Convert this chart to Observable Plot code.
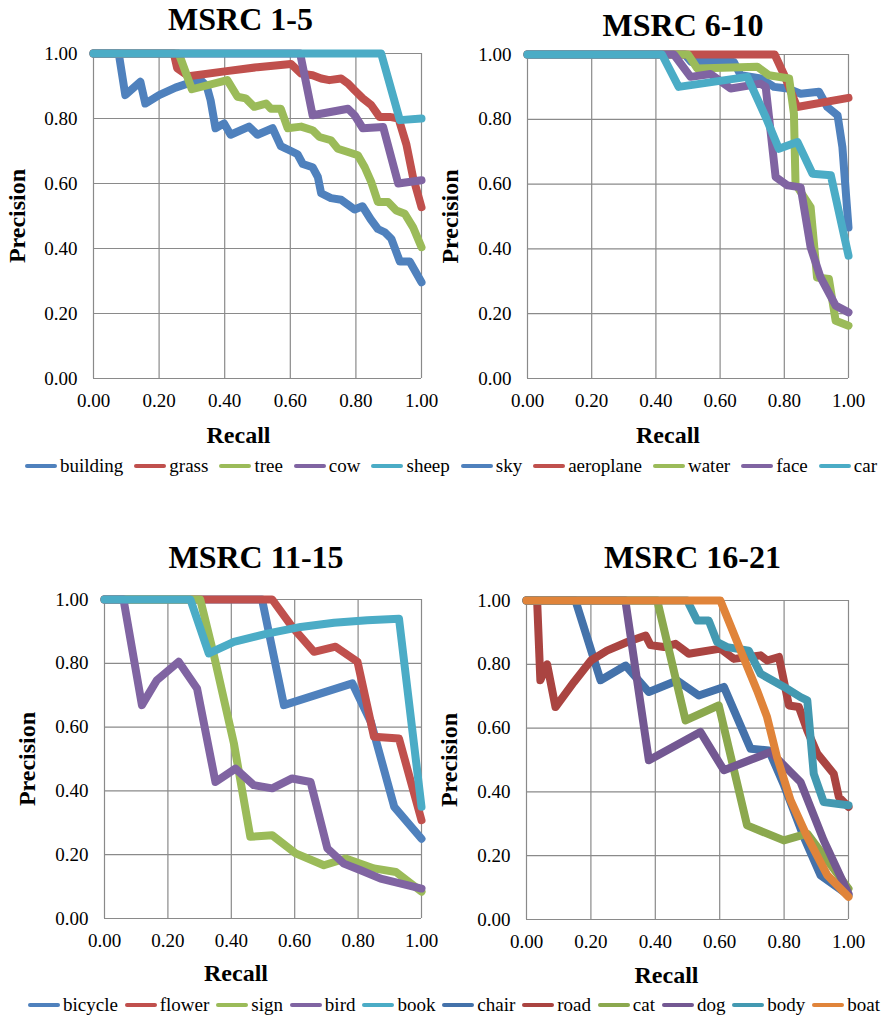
<!DOCTYPE html>
<html>
<head>
<meta charset="utf-8">
<script src="https://cdn.jsdelivr.net/npm/d3@7"></script>
<script src="https://cdn.jsdelivr.net/npm/@observablehq/plot@0.6"></script>
<style>
  html, body { margin: 0; padding: 0; background: #fff; }
  #root { position: relative; width: 887px; height: 1019px; overflow: hidden; font-family: "Liberation Serif", "Times New Roman", Times, serif; }
  .panel { position: absolute; }
  .legend { position: absolute; display: flex; justify-content: space-between; align-items: center; font-family: "Liberation Serif", "Times New Roman", Times, serif; font-size: 19px; line-height: 20px; height: 20px; color: #000; white-space: nowrap; }
  .legend .item { display: flex; align-items: center; }
  .legend .sw { display: inline-block; width: 32px; height: 4px; border-radius: 2px; margin-right: 3px; }
</style>
</head>
<body>
<div id="root"></div>
<script>
// ---------- data ----------
const ticks = [0, 0.2, 0.4, 0.6, 0.8, 1.0];

const titles = ["MSRC 1-5", "MSRC 6-10", "MSRC 11-15", "MSRC 16-21"];
const xLabel = "Recall";
const yLabel = "Precision";

const colorsA = ["#4F81BD", "#C0504D", "#9BBB59", "#8064A2", "#4BACC6"];
const colorsB = ["#4472AA", "#AA4441", "#8BA84E", "#735892", "#4399B1", "#E0843A"];

// MSRC 1-5
const names1 = ["building", "grass", "tree", "cow", "sheep"];
const building = [[0,1],[0.077,1],[0.097,0.872],[0.143,0.913],[0.158,0.846],[0.2,0.872],[0.25,0.895],[0.3,0.912],[0.327,0.918],[0.345,0.9],[0.357,0.856],[0.372,0.77],[0.398,0.785],[0.418,0.75],[0.474,0.775],[0.5,0.75],[0.546,0.77],[0.571,0.715],[0.602,0.70],[0.622,0.69],[0.638,0.66],[0.668,0.65],[0.684,0.62],[0.694,0.57],[0.724,0.555],[0.755,0.55],[0.796,0.52],[0.82,0.53],[0.845,0.49],[0.867,0.46],[0.888,0.45],[0.908,0.43],[0.934,0.36],[0.964,0.36],[1,0.296]];
const grass = [[0,1],[0.245,1],[0.255,0.955],[0.29,0.93],[0.4,0.945],[0.5,0.958],[0.602,0.968],[0.633,0.938],[0.668,0.933],[0.694,0.923],[0.719,0.918],[0.755,0.923],[0.776,0.908],[0.796,0.887],[0.821,0.862],[0.847,0.841],[0.872,0.805],[0.903,0.805],[0.93,0.8],[0.954,0.72],[0.974,0.62],[1,0.527]];
const tree = [[0,1],[0.26,1],[0.30,0.89],[0.408,0.918],[0.439,0.867],[0.464,0.862],[0.49,0.836],[0.526,0.846],[0.541,0.83],[0.571,0.83],[0.592,0.77],[0.633,0.775],[0.668,0.764],[0.689,0.743],[0.724,0.733],[0.745,0.707],[0.776,0.697],[0.806,0.687],[0.827,0.65],[0.847,0.604],[0.867,0.543],[0.898,0.543],[0.923,0.517],[0.949,0.507],[0.974,0.466],[1,0.404]];
const cow = [[0,1],[0.63,1],[0.668,0.81],[0.776,0.83],[0.796,0.81],[0.821,0.77],[0.883,0.774],[0.929,0.6],[1,0.61]];
const sheep = [[0,1],[0.877,1],[0.934,0.795],[1,0.80]];

// MSRC 6-10
const names2 = ["sky", "aeroplane", "water", "face", "car"];
const sky = [[0,1],[0.49,1],[0.51,0.977],[0.643,0.977],[0.664,0.936],[0.726,0.926],[0.768,0.9],[0.81,0.895],[0.851,0.879],[0.908,0.885],[0.934,0.838],[0.966,0.812],[0.981,0.714],[1,0.466]];
const aeroplane = [[0,1],[0.77,1],[0.8,0.936],[0.84,0.838],[1,0.866]];
const water = [[0,1],[0.5,1],[0.529,0.957],[0.716,0.962],[0.752,0.936],[0.815,0.926],[0.83,0.817],[0.835,0.60],[0.882,0.529],[0.902,0.312],[0.939,0.307],[0.96,0.178],[1,0.163]];
const face = [[0,1],[0.456,1],[0.508,0.931],[0.57,0.94],[0.633,0.895],[0.726,0.91],[0.742,0.9],[0.773,0.622],[0.81,0.596],[0.851,0.59],[0.882,0.405],[0.913,0.312],[0.96,0.225],[1,0.204]];
const car = [[0,1],[0.419,1],[0.471,0.9],[0.685,0.931],[0.742,0.807],[0.783,0.709],[0.841,0.73],[0.888,0.632],[0.945,0.627],[1,0.379]];

// MSRC 11-15
const names3 = ["bicycle", "flower", "sign", "bird", "book"];
const bicycle = [[0,1],[0.497,1],[0.566,0.669],[0.782,0.737],[0.84,0.617],[0.914,0.35],[1,0.25]];
const flower = [[0,1],[0.529,1],[0.592,0.914],[0.661,0.836],[0.729,0.852],[0.798,0.805],[0.85,0.57],[0.929,0.564],[1,0.308]];
const sign = [[0,1],[0.302,1],[0.345,0.826],[0.408,0.55],[0.46,0.256],[0.529,0.261],[0.603,0.204],[0.692,0.167],[0.761,0.188],[0.85,0.157],[0.919,0.146],[1,0.084]];
const bird = [[0,1],[0.06,1],[0.118,0.669],[0.165,0.747],[0.234,0.805],[0.292,0.721],[0.35,0.428],[0.413,0.47],[0.471,0.418],[0.529,0.408],[0.592,0.439],[0.65,0.428],[0.703,0.22],[0.755,0.172],[0.808,0.151],[0.871,0.125],[1,0.094]];
const book = [[0,1],[0.271,1],[0.329,0.831],[0.408,0.867],[0.513,0.893],[0.619,0.914],[0.724,0.927],[0.829,0.935],[0.929,0.94],[1,0.35]];

// MSRC 16-21
const names4 = ["chair", "road", "cat", "dog", "body", "boat"];
const chair = [[0,1],[0.152,1],[0.23,0.75],[0.308,0.796],[0.38,0.713],[0.468,0.749],[0.535,0.702],[0.613,0.729],[0.696,0.535],[0.753,0.53],[0.8,0.42],[0.861,0.259],[0.913,0.139],[1,0.076]];
const road = [[0,1],[0.033,1],[0.043,0.75],[0.064,0.80],[0.09,0.666],[0.147,0.744],[0.2,0.812],[0.25,0.843],[0.313,0.87],[0.37,0.89],[0.385,0.86],[0.427,0.854],[0.463,0.864],[0.504,0.833],[0.602,0.849],[0.644,0.817],[0.727,0.828],[0.747,0.812],[0.784,0.823],[0.815,0.671],[0.846,0.666],[0.872,0.593],[0.903,0.52],[0.954,0.457],[0.97,0.384],[1,0.353]];
const cat = [[0,1],[0.406,1],[0.494,0.624],[0.597,0.671],[0.685,0.295],[0.799,0.248],[0.872,0.269],[1,0.097]];
const dog = [[0,1],[0.307,1],[0.38,0.499],[0.54,0.588],[0.613,0.468],[0.758,0.525],[0.851,0.431],[0.923,0.248],[1,0.081]];
const body = [[0,1],[0.499,1],[0.53,0.937],[0.566,0.937],[0.592,0.87],[0.623,0.854],[0.69,0.843],[0.727,0.77],[0.8,0.729],[0.851,0.697],[0.872,0.687],[0.892,0.457],[0.923,0.368],[1,0.358]];
const boat = [[0,1],[0.602,1],[0.665,0.843],[0.716,0.718],[0.747,0.635],[0.778,0.509],[0.82,0.374],[0.872,0.259],[0.934,0.139],[1,0.071]];

// ---------- drawing ----------
const FONT = '"Liberation Serif", "Times New Roman", Times, serif';
const GRID = "#8a8a8a";
const fmt = d3.format(".2f");

function panel(cfg) {
  const rows = cfg.names.flatMap((name, i) => cfg.values[i].map(([x, y]) => ({name, x, y})));
  const p = Plot.plot({
    width: cfg.w, height: cfg.h,
    marginLeft: cfg.ml, marginRight: cfg.mr, marginTop: cfg.mt, marginBottom: cfg.mb,
    style: {fontFamily: FONT, fontSize: "19px", background: "transparent", overflow: "visible", color: "#000"},
    x: {domain: [0, 1]},
    y: {domain: [0, 1]},
    color: {domain: cfg.names, range: cfg.colors},
    marks: [
      Plot.gridX(ticks, {stroke: GRID, strokeOpacity: 1, strokeWidth: 1.2}),
      Plot.gridY(ticks, {stroke: GRID, strokeOpacity: 1, strokeWidth: 1.2}),
      Plot.axisX(ticks, {tickSize: 0, tickPadding: 15, tickFormat: fmt, fontSize: 19, label: null, fill: "#000"}),
      Plot.axisY(ticks, {tickSize: 0, tickPadding: 16, tickFormat: fmt, fontSize: 19, label: null, fill: "#000"}),
      Plot.line(rows, {x: "x", y: "y", z: "name", stroke: "name", strokeWidth: 8, strokeLinejoin: "round", strokeLinecap: "round"}),
      Plot.text([cfg.title], {text: d => d, frameAnchor: "top", textAnchor: "middle", lineAnchor: "middle", dx: cfg.tdx, dy: cfg.tdy, fontSize: 32, fontWeight: "bold", fill: "#000"}),
      Plot.text([xLabel], {text: d => d, frameAnchor: "bottom", textAnchor: "middle", lineAnchor: "middle", dx: cfg.xdx, dy: cfg.xdy, fontSize: 24, fontWeight: "bold", fill: "#000"}),
      Plot.text([yLabel], {text: d => d, frameAnchor: "left", textAnchor: "middle", lineAnchor: "middle", rotate: -90, dx: cfg.ydx, fontSize: 24, fontWeight: "bold", fill: "#000"})
    ]
  });
  const div = document.createElement("div");
  div.className = "panel";
  div.style.left = cfg.left + "px";
  div.style.top = cfg.top + "px";
  div.appendChild(p);
  return div;
}

function legend(items, left, top, width) {
  const div = document.createElement("div");
  div.className = "legend";
  div.style.left = left + "px";
  div.style.top = top + "px";
  div.style.width = width + "px";
  for (const [name, color] of items) {
    const it = document.createElement("span");
    it.className = "item";
    const sw = document.createElement("span");
    sw.className = "sw";
    sw.style.background = color;
    it.appendChild(sw);
    it.appendChild(document.createTextNode(name));
    div.appendChild(it);
  }
  return div;
}

const root = document.getElementById("root");
root.appendChild(panel({names: names1, values: [building, grass, tree, cow, sheep], colors: colorsA, title: titles[0],
  left: 0, top: 0, w: 440, h: 450, ml: 93, mr: 19, mt: 53, mb: 72, tdx: -17, tdy: -34, xdx: -19, xdy: 57, ydx: -76}));
root.appendChild(panel({names: names2, values: [sky, aeroplane, water, face, car], colors: colorsA, title: titles[1],
  left: 440, top: 0, w: 447, h: 450, ml: 87, mr: 39, mt: 54, mb: 72, tdx: -5, tdy: -29, xdx: -20, xdy: 57, ydx: -77}));
root.appendChild(panel({names: names3, values: [bicycle, flower, sign, bird, book], colors: colorsA, title: titles[2],
  left: 0, top: 540, w: 440, h: 440, ml: 104, mr: 19, mt: 59, mb: 62, tdx: -7, tdy: -42, xdx: -27, xdy: 55, ydx: -77}));
root.appendChild(panel({names: names4, values: [chair, road, cat, dog, body, boat], colors: colorsB, title: titles[3],
  left: 440, top: 540, w: 447, h: 440, ml: 86, mr: 39, mt: 60, mb: 61, tdx: 5, tdy: -43, xdx: -21, xdy: 56, ydx: -77}));

root.appendChild(legend([...names1.map((n, i) => [n, colorsA[i]]), ...names2.map((n, i) => [n, colorsA[i]])], 25, 456, 852));
root.appendChild(legend([...names3.map((n, i) => [n, colorsA[i]]), ...names4.map((n, i) => [n, colorsB[i]])], 28, 995, 852));
</script>
</body>
</html>
